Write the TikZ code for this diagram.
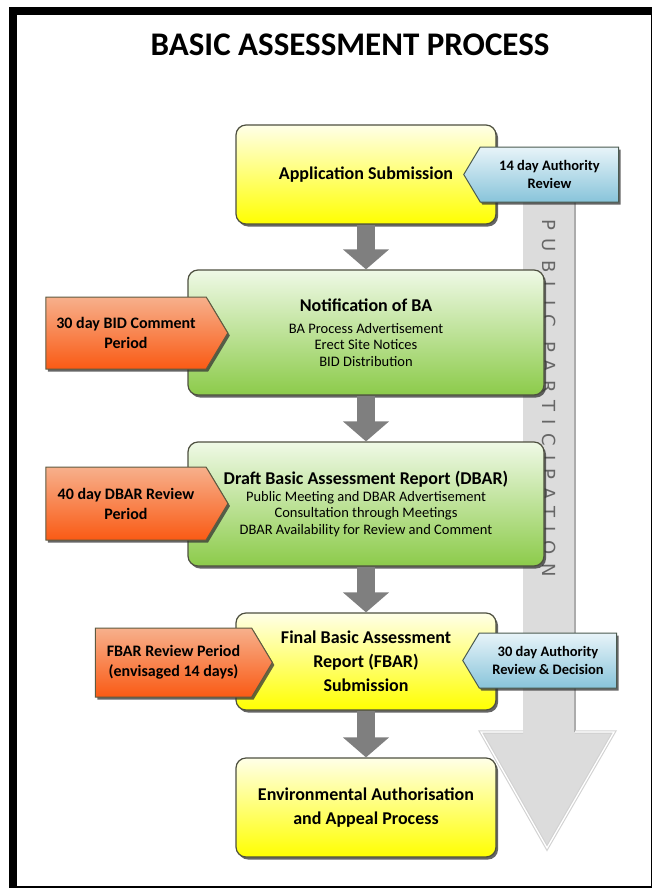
\documentclass[tikz,border=0pt]{standalone}
\usepackage{fontspec}
\setmainfont{Carlito}
\newfontfamily\ppfont[LetterSpace=48]{DejaVu Sans}
\usetikzlibrary{arrows.meta,shapes.symbols,shadows}

\definecolor{boxline}{HTML}{4E5040}
\definecolor{ylwtop}{HTML}{FFFFE8}
\definecolor{ylwbot}{HTML}{FFFF00}
\definecolor{grntop}{HTML}{EFF9E6}
\definecolor{grnbot}{HTML}{8CCB4A}
\definecolor{ortop}{HTML}{F7B08C}
\definecolor{orbot}{HTML}{FA5A14}
\definecolor{orline}{HTML}{5E5A40}
\definecolor{bltop}{HTML}{E8F4F9}
\definecolor{blbot}{HTML}{88C4DA}
\definecolor{blline}{HTML}{4A5A50}
\definecolor{flowgray}{HTML}{7F7F7F}
\definecolor{ppgray}{HTML}{DCDCDC}

\newcommand{\titlefont}{\fontsize{33}{36}\selectfont\bfseries}
\newcommand{\headfont}{\fontsize{18}{24}\selectfont\bfseries}
\newcommand{\subfont}{\fontsize{14.5}{16.5}\selectfont}
\newcommand{\ortagfont}{\fontsize{16}{20}\selectfont\bfseries}
\newcommand{\bltagfont}{\fontsize{14.5}{18}\selectfont\bfseries}

\tikzset{
  base/.style={draw=boxline, line width=1.2pt, rounded corners=10pt, align=center, inner sep=2pt,
    drop shadow={shadow xshift=2pt, shadow yshift=-2.5pt, fill=black!80, opacity=.75}},
  yellowbox/.style={base, top color=ylwtop, bottom color=ylwbot, minimum width=260pt},
  greenbox/.style={base, top color=grntop, bottom color=grnbot, minimum width=356pt},
  tag/.style={shape=signal, line width=1pt, align=center, inner sep=1pt, signal pointer angle=118,
    drop shadow={shadow xshift=2pt, shadow yshift=-2.5pt, fill=black!80, opacity=.75}},
  ortag/.style={tag, signal to=east, draw=orline, top color=ortop, bottom color=orbot, font=\ortagfont},
  bltag/.style={tag, signal to=west, draw=blline, top color=bltop, bottom color=blbot, font=\bltagfont},
  flow/.style={draw=flowgray, line width=18pt, -{Triangle[width=45pt,length=20pt]}}
}

\begin{document}
\begin{tikzpicture}[x=1pt,y=-1pt]
    \useasboundingbox (0,0) rectangle (651,888);

    % Frame and title
    \draw[black, line width=8pt] (13,11) rectangle (655,890);
    \node[anchor=base, font=\titlefont] (title) at (350,56) {BASIC ASSESSMENT PROCESS};

    % Public participation arrow
    \fill[ppgray] (523,190) rectangle (575,733);
    \draw[gray!65, line width=1.5pt] (575,190) -- (575,733);
    \fill[ppgray] (481,732) -- (614,732) -- (547,848) -- cycle;
    \draw[gray!35, line width=3.5pt, line join=miter] (523,732) -- (481,732) -- (547,848) -- (614,732) -- (575,732);
    \draw[white, line width=1.3pt, line join=miter] (523,732) -- (481,732) -- (547,848) -- (614,732) -- (575,732);
    \node[rotate=-90, text=black!60, font=\ppfont\fontsize{18}{20}\selectfont] (pp) at (549,398) {PUBLIC PARTICIPATION};

    % Process boxes
    \draw(366,174.5) node[yellowbox, minimum height=99pt, font=\headfont] (app) {Application Submission};
    \draw(366,332.5) node[greenbox, minimum height=125pt, font=\subfont] (notif)
        {{\headfont Notification of BA}\\[5pt] BA Process Advertisement\\ Erect Site Notices\\ BID Distribution};
    \draw(366,504) node[greenbox, minimum height=124pt, font=\subfont] (dbar)
        {{\headfont Draft Basic Assessment Report (DBAR)}\\ Public Meeting and DBAR Advertisement\\
         Consultation through Meetings\\ DBAR Availability for Review and Comment};
    \draw(366,661.5) node[yellowbox, minimum height=97pt, font=\headfont] (fbar)
        {Final Basic Assessment\\ Report (FBAR)\\ Submission};
    \draw(366,807.5) node[yellowbox, minimum height=99pt, font=\headfont] (auth)
        {Environmental Authorisation\\ and Appeal Process};

    % Flow arrows
    \foreach \source/\target in {app/notif, notif/dbar, dbar/fbar, fbar/auth} {
            \draw[flow] (\source) -- (\target);
        }

    % Side tags
    \draw(126,333) node[ortag, minimum width=182pt, minimum height=72pt] (bid) {30 day BID Comment\\ Period};
    \draw(126,503.5) node[ortag, minimum width=182pt, minimum height=73pt] (dbarrev) {40 day DBAR Review\\ Period};
    \draw(173.5,662.5) node[ortag, minimum width=177pt, minimum height=69pt] (fbarrev) {FBAR Review Period\\ (envisaged 14 days)};
    \draw(549.5,174.5) node[bltag, minimum width=155pt, minimum height=55pt] (authrev) {14 day Authority\\ Review};
    \draw(548,660.5) node[bltag, minimum width=154pt, minimum height=55pt] (decision) {30 day Authority\\ Review \& Decision};
\end{tikzpicture}
\end{document}
